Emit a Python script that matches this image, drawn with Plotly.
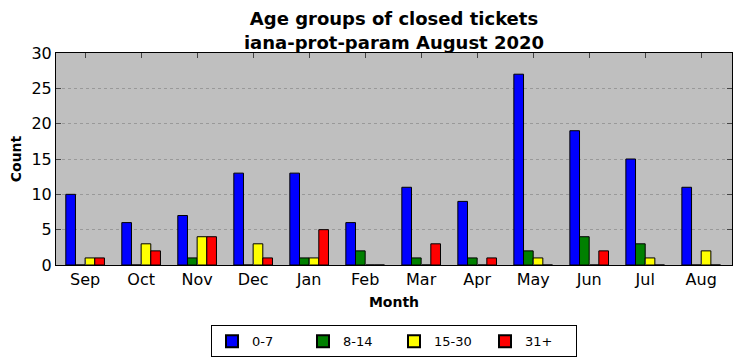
import plotly.graph_objects as go

months = ["Sep", "Oct", "Nov", "Dec", "Jan", "Feb", "Mar", "Apr", "May", "Jun", "Jul", "Aug"]
age_0_7 = [10, 6, 7, 13, 13, 6, 11, 9, 27, 19, 15, 11]
age_8_14 = [0, 0, 1, 0, 1, 2, 1, 1, 2, 4, 3, 0]
age_15_30 = [1, 3, 4, 3, 1, 0, 0, 0, 1, 0, 1, 2]
age_31p = [1, 2, 4, 1, 5, 0, 3, 1, 0, 2, 0, 0]

series = [("0-7", age_0_7, "#0000ff"), ("8-14", age_8_14, "#008000"),
          ("15-30", age_15_30, "#ffff00"), ("31+", age_31p, "#ff0000")]

x = list(range(len(months)))
fig = go.Figure()
for name, vals, col in series:
    fig.add_trace(go.Bar(x=x, y=vals, name=name, marker=dict(color=col, line=dict(color="black", width=1))))

font = "DejaVu Sans"
fig.update_layout(
    width=742, height=361,
    margin=dict(l=56, r=10, t=53, b=96, autoexpand=False),
    paper_bgcolor="white", plot_bgcolor="#bfbfbf",
    barmode="group", bargap=0.31, bargroupgap=0,
    font=dict(family=font, size=16, color="black"),
    title=dict(text="<b>Age groups of closed tickets<br>iana-prot-param August 2020</b>",
               x=0.531, xanchor="center", yref="container", y=0.93, yanchor="top",
               font=dict(size=18, family=font)),
    showlegend=True,
    legend=dict(orientation="h", x=0.5, xanchor="center", y=-0.285, yanchor="top",
                bordercolor="black", borderwidth=1, font=dict(size=13, family=font),
                itemsizing="constant", entrywidth=46),
)
fig.update_xaxes(range=[-0.52, 11.55], tickvals=x, ticktext=months, ticks="inside", ticklen=5,
                 showline=True, linecolor="black", linewidth=1, mirror="ticks", showgrid=False,
                 zeroline=False, automargin=False,
                 title=dict(text="<b>Month</b>", font=dict(size=14), standoff=8))
fig.update_yaxes(range=[0, 30], tickvals=[0, 5, 10, 15, 20, 25, 30], ticks="inside", ticklen=5,
                 showline=True, linecolor="black", linewidth=1, mirror="ticks",
                 showgrid=True, gridcolor="#999999", griddash="dot", gridwidth=1, zeroline=False,
                 automargin=False,
                 title=dict(text="<b>Count</b>", font=dict(size=14), standoff=6))
fig.write_html("out.html", config={"displayModeBar": False},
               post_script="document.body.style.margin='0';document.body.style.overflow='hidden';")
